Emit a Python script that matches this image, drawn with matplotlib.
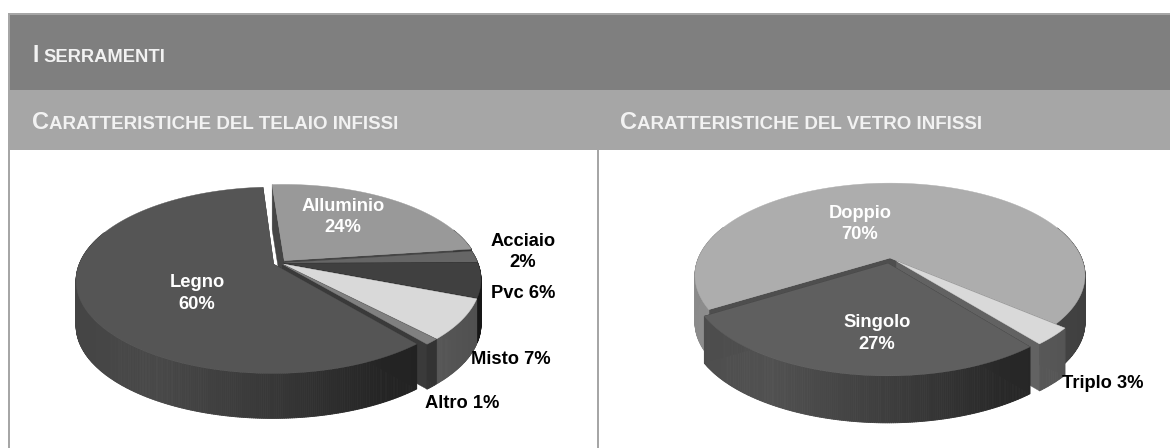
import numpy as np
import matplotlib
matplotlib.use('Agg')
import matplotlib.pyplot as plt
from matplotlib.collections import PolyCollection

plt.rcParams['font.family'] = ['Liberation Sans', 'DejaVu Sans']

# dati
telaio_nomi = ['Alluminio', 'Acciaio', 'Pvc', 'Misto', 'Altro', 'Legno']
telaio_val = [24, 2, 6, 7, 1, 60]
vetro_nomi = ['Doppio', 'Triplo', 'Singolo']
vetro_val = [70, 3, 27]

titolo = 'I SERRAMENTI'
sottotitoli = ['CARATTERISTICHE DEL TELAIO INFISSI', 'CARATTERISTICHE DEL VETRO INFISSI']

# stile fette
telaio_col = ['#999999', '#666666', '#404040', '#d9d9d9', '#808080', '#555555']
telaio_expl = [0.035, 0.02, 0.02, 0.02, 0.02, 0.035]
vetro_col = ['#adadad', '#d9d9d9', '#5f5f5f']
vetro_expl = [0.0, 0.05, 0.06]

W, H = 1170, 448
BIANCO = '#f2f2f2'
fig = plt.figure(figsize=(W / 100, H / 100), dpi=100)
ax = fig.add_axes([0, 0, 1, 1])
ax.set_xlim(0, W)
ax.set_ylim(H, 0)
ax.axis('off')


def proietta(u, v, g):
    # cerchio unitario -> schermo, con un po' di prospettiva
    d = 1 + g['p'] * v
    return g['cx'] + g['A'] * u / d, g['cy'] - g['B'] * v / d


def scuro(col, f):
    rgb = np.array(matplotlib.colors.to_rgb(col))
    return tuple(rgb * f)


def ombra(u):
    return np.interp(u, [-1, -0.5, 0, 0.5, 1], [0.8, 0.85, 0.65, 0.42, 0.36])


def torta(valori, colori, explode, g):
    tot = sum(valori)
    ang = g['start']
    fette = []
    for val, col, e in zip(valori, colori, explode):
        a0, a1 = ang, ang + 360.0 * val / tot
        ang = a1
        fette.append((a0, a1, col, e))
    for a0, a1, col, e in fette:
        bis = np.radians((a0 + a1) / 2)
        ou, ov = e * np.sin(bis), e * np.cos(bis)
        t = np.radians(np.linspace(a0, a1, max(int(a1 - a0) * 2, 6)))
        u = ou + np.sin(t)
        v = ov + np.cos(t)
        x, y = proietta(u, v, g)
        xc, yc = proietta(np.array([ou]), np.array([ov]), g)
        d = g['depth']
        # facce di taglio
        for xe, ye in ((x[0], y[0]), (x[-1], y[-1])):
            ax.fill([xc[0], xe, xe, xc[0]], [yc[0], ye, ye + d, yc[0] + d],
                    color=scuro(col, 0.45), lw=0.3, zorder=2)
        # parete laterale, sfumata
        quad = []
        cols = []
        for i in range(len(x) - 1):
            if np.cos(t[i]) > 0.35 and abs(np.sin(t[i])) < 0.93:
                continue
            quad.append([(x[i], y[i]), (x[i + 1], y[i + 1]), (x[i + 1], y[i + 1] + d), (x[i], y[i] + d)])
            cols.append(scuro(col, ombra(np.sin(t[i]))))
        if quad:
            ax.add_collection(PolyCollection(quad, facecolors=cols, edgecolors=cols, linewidths=0.6, zorder=2))
        ax.fill(np.r_[xc, x], np.r_[yc, y], color=col, lw=0.3, zorder=2)


def maiuscoletto(x, y, testo, gr, pic, col=BIANCO):
    # maiuscola iniziale piu' grande
    r = fig.canvas.get_renderer()
    for s, fs in [(testo[0], gr), (testo[1:], pic)]:
        t = ax.text(x, y, s, fontsize=fs, fontweight='bold', color=col, va='baseline', ha='left', zorder=5)
        x += t.get_window_extent(r).width


# fasce intestazione
ax.fill_between([8, W], 15, 90, color='#7f7f7f', lw=0, zorder=1)
ax.fill_between([8, W], 90, 150.5, color='#a6a6a6', lw=0, zorder=1)
ax.fill_between([8, W], 13, 15, color='#a6a6a6', lw=0, zorder=1)
ax.fill_between([8, 10], 13, H, color='#a6a6a6', lw=0, zorder=1)
ax.fill_between([597, 599], 150, H, color='#a6a6a6', lw=0, zorder=1)

ax.text(32, 61.7, 'I', fontsize=16.5, fontweight='bold', color=BIANCO, zorder=5)
ax.text(43, 61.7, titolo[2:], fontsize=13.2, fontweight='bold', color=BIANCO, zorder=5)
maiuscoletto(32, 129, sottotitoli[0], 17, 13.5)
maiuscoletto(620, 129, sottotitoli[1], 17, 13.5)

g_telaio = dict(cx=280, cy=263, A=194, B=90, p=0.172, depth=45, start=-4)
g_vetro = dict(cx=890, cy=258, A=191.5, B=89, p=0.189, depth=47, start=-121.5)
torta(telaio_val, telaio_col, telaio_expl, g_telaio)
torta(vetro_val, vetro_col, vetro_expl, g_vetro)


def etichetta(x, y, s, col='white'):
    ax.text(x, y, s, fontsize=13.2, fontweight='bold', color=col, ha='center', va='center', linespacing=1.32, zorder=6)


etichetta(343, 217, '%s\n%d%%' % (telaio_nomi[0], telaio_val[0]))
etichetta(523, 252, '%s\n%d%%' % (telaio_nomi[1], telaio_val[1]), 'black')
etichetta(523, 293, '%s %d%%' % (telaio_nomi[2], telaio_val[2]), 'black')
etichetta(511, 359, '%s %d%%' % (telaio_nomi[3], telaio_val[3]), 'black')
etichetta(462, 403, '%s %d%%' % (telaio_nomi[4], telaio_val[4]), 'black')
etichetta(197, 293.5, '%s\n%d%%' % (telaio_nomi[5], telaio_val[5]))

etichetta(860, 224, '%s\n%d%%' % (vetro_nomi[0], vetro_val[0]))
etichetta(1103, 383, '%s %d%%' % (vetro_nomi[1], vetro_val[1]), 'black')
etichetta(877, 333.5, '%s\n%d%%' % (vetro_nomi[2], vetro_val[2]))

fig.savefig('out.png', dpi=100, facecolor='white')
